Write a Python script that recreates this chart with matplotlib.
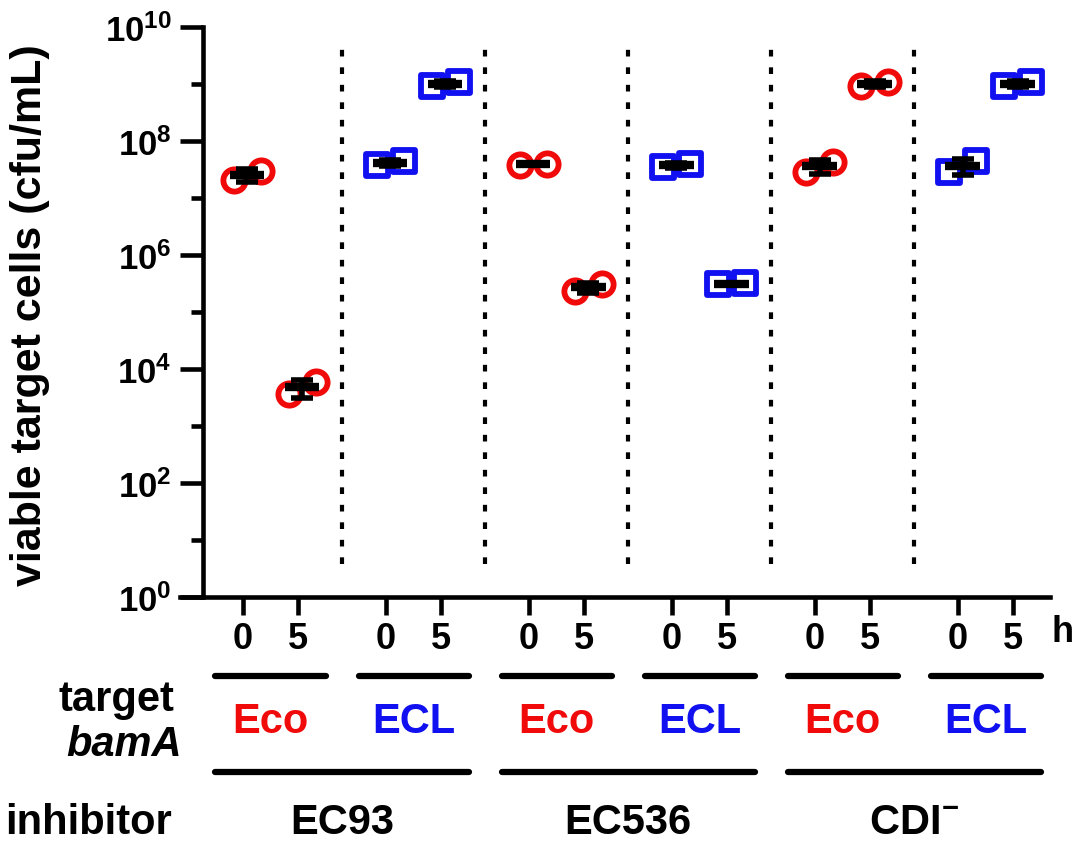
import matplotlib.pyplot as plt
import matplotlib.transforms as mtransforms
from matplotlib.markers import MarkerStyle
from matplotlib.lines import Line2D
import numpy as np

plt.rcParams['font.family'] = ['Liberation Sans', 'DejaVu Sans']
plt.rcParams['font.weight'] = 'bold'
plt.rcParams['mathtext.fontset'] = 'custom'
plt.rcParams['mathtext.rm'] = 'Liberation Sans:bold'
plt.rcParams['mathtext.bf'] = 'Liberation Sans:bold'
plt.rcParams['mathtext.it'] = 'Liberation Sans:bold:italic'

# --- data (cfu/mL, two replicates per column) ---
inhibitors = ['EC93', 'EC536', r'CDI$^{\mathbf{-}}$']
targets = ['Eco', 'ECL', 'Eco', 'ECL', 'Eco', 'ECL']
time_labels = ['0', '5']
cfu_0h = [[2.1e7, 3.0e7], [3.8e7, 4.5e7], [3.8e7, 4.0e7],
          [3.5e7, 4.0e7], [2.9e7, 4.3e7], [2.9e7, 4.5e7]]
cfu_5h = [[3.6e3, 5.9e3], [9.1e8, 1.1e9], [2.3e5, 3.1e5],
          [3.1e5, 3.2e5], [9.1e8, 1.1e9], [9.1e8, 1.1e9]]
y_major = [1e0, 1e2, 1e4, 1e6, 1e8, 1e10]
y_minor = [1e1, 1e3, 1e5, 1e7, 1e9]

colors = {'Eco': '#F00A0A', 'ECL': '#1010F0'}
markers = {'Eco': MarkerStyle('o'), 'ECL': MarkerStyle('s', joinstyle='round')}

W, H = 1073, 845
fig = plt.figure(figsize=(W / 100, H / 100), dpi=100)
ax = fig.add_axes([180 / W, 1 - 598 / H, 870 / W, 570 / H])

gap = 2.6
shift = 0.08
spread = 0.245
for g, tgt in enumerate(targets):
    for t, reps in enumerate([cfu_0h[g], cfu_5h[g]]):
        xc = g * gap + t + shift
        xs = [xc - spread, xc + spread]
        ax.plot(xs, reps, linestyle='none', marker=markers[tgt], ms=16,
                mec=colors[tgt], mfc='none', mew=4.2, zorder=3)
        m = np.mean(reps)
        sd = np.std(reps, ddof=1)
        ax.errorbar([xc], [m], yerr=[[sd], [sd]], fmt='none', ecolor='black',
                    elinewidth=4, capsize=8, capthick=4, zorder=4)
        ax.plot([xc - 0.31, xc + 0.31], [m, m], color='black', lw=6,
                solid_capstyle='butt', zorder=5)

# dotted separators
for g in range(len(targets) - 1):
    ax.axvline(g * gap + 1.8, ymin=0.058, ymax=0.979, color='black', lw=3,
               linestyle=(0, (1.6, 2.6)))

ax.set_yscale('log')
ax.set_ylim(1, 1e10)
ax.set_xlim(-1.145, 14.67)
ax.yaxis.set_major_locator(plt.FixedLocator(y_major))
ax.yaxis.set_minor_locator(plt.FixedLocator(y_minor))
ax.yaxis.set_major_formatter(plt.FuncFormatter(
    lambda v, p: r'$\mathbf{10^{%d}}$' % round(np.log10(v))))
ax.yaxis.set_minor_formatter(plt.NullFormatter())

xt = [g * gap + t for g in range(len(targets)) for t in range(2)]
ax.set_xticks(xt)
ax.set_xticklabels(time_labels * len(targets))

for s in ['top', 'right']:
    ax.spines[s].set_visible(False)
ax.spines['left'].set_position(('axes', 23 / 870))
for s in ['left', 'bottom']:
    ax.spines[s].set_linewidth(3.3)
ax.tick_params(axis='y', which='major', length=16.5, width=3.3, labelsize=25, pad=6)
ax.tick_params(axis='y', which='minor', length=9, width=3.3)
ax.tick_params(axis='x', which='major', length=13, width=3.3, labelsize=26, pad=4)

fig.text(30 / W, 1 - 315 / H, 'viable target cells (cfu/mL)', rotation=90,
         ha='center', va='center', fontsize=31, fontweight='bold')

# annotations below the axis
tr = mtransforms.blended_transform_factory(ax.transData, fig.transFigure)


def fy(px):
    return 1 - px / H


fig.text(1063 / W, fy(633), 'h', ha='center', va='center', fontsize=26)
for g, tgt in enumerate(targets):
    xc = g * gap + 0.5
    fig.add_artist(Line2D([xc - 1.0, xc + 1.0], [fy(677), fy(677)], transform=tr,
                          color='black', lw=4.5, solid_capstyle='round'))
    fig.text(xc, fy(722), tgt, transform=tr, ha='center', va='center',
             fontsize=30, color=colors[tgt])
for k, inh in enumerate(inhibitors):
    x0 = 2 * k * gap + 0.5 - 1.0
    x1 = (2 * k + 1) * gap + 0.5 + 1.0
    fig.add_artist(Line2D([x0, x1], [fy(773), fy(773)], transform=tr,
                          color='black', lw=4.5, solid_capstyle='round'))
    fig.text((x0 + x1) / 2, fy(823), inh, transform=tr, ha='center', va='center',
             fontsize=30)

fig.text(116 / W, fy(700), 'target', ha='center', va='center', fontsize=30)
fig.text(124 / W, fy(745), 'bamA', ha='center', va='center', fontsize=30,
         style='italic')
fig.text(88 / W, fy(823), 'inhibitor', ha='center', va='center', fontsize=30)

fig.savefig('out.png', dpi=100)
